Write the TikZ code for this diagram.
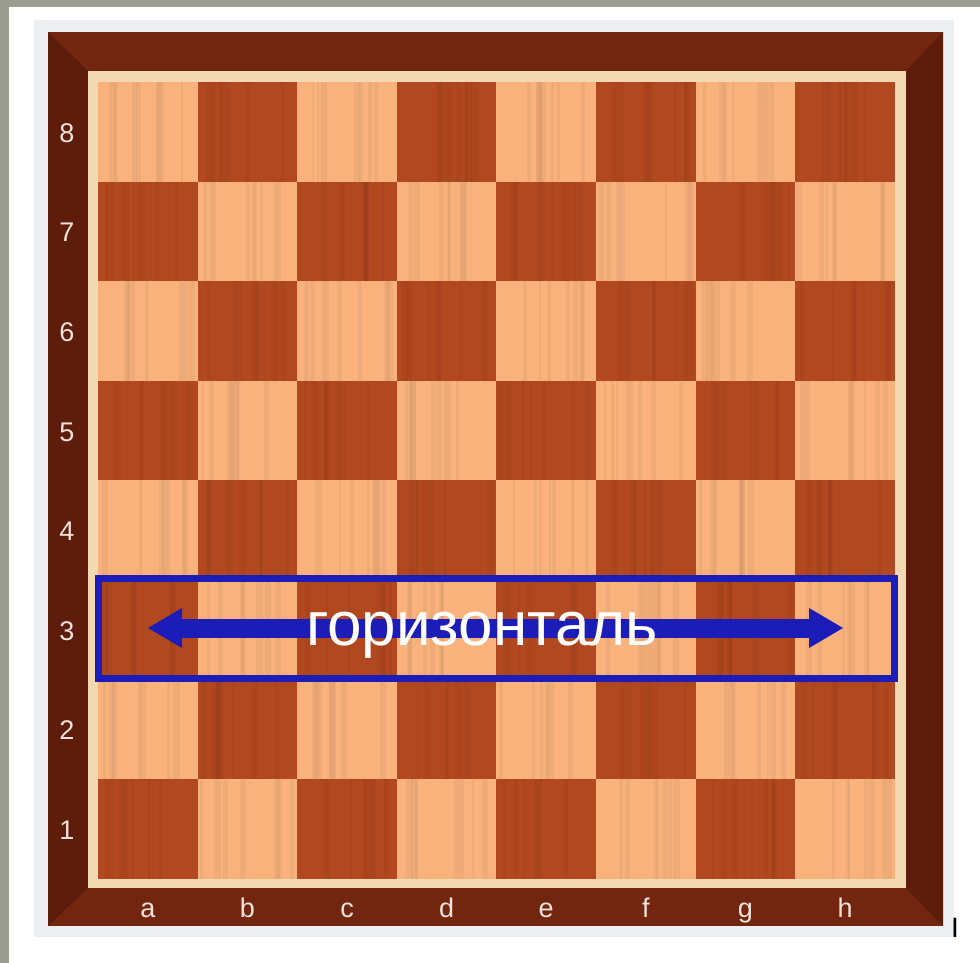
\documentclass[tikz,border=0pt]{standalone}
\usepackage{fontspec}
\setmainfont{Liberation Sans}
\usetikzlibrary{arrows.meta}
\definecolor{bggray}{HTML}{9A9D90}
\definecolor{panel}{HTML}{ECEEF2}
\definecolor{frameA}{HTML}{72260F}
\definecolor{frameB}{HTML}{5E1C0A}
\definecolor{rim}{HTML}{F3D9B2}
\definecolor{lightsq}{HTML}{F9B27C}
\definecolor{darksq}{HTML}{B24820}
\definecolor{hblue}{HTML}{1C1CB8}
\definecolor{labcol}{HTML}{F2E2DA}
\begin{document}
\begin{tikzpicture}[x=1pt,y=-1pt,
  coordlabel/.style={text=labcol,font=\fontsize{27}{27}\selectfont,inner sep=0pt,anchor=base},
  bluebox/.style={draw=hblue,line width=7pt,minimum width=796pt,minimum height=100pt,inner sep=0pt},
  bigarrow/.style={draw=hblue,line width=19pt,
    {Triangle[length=34pt,width=40pt,line width=0pt]}-{Triangle[length=34pt,width=40pt,line width=0pt]}},
  rowlabel/.style={text=white,font=\fontsize{62}{62}\selectfont,inner sep=0pt,anchor=base}]
\useasboundingbox (0,0) rectangle (980,963);
\fill[bggray] (0,0) rectangle (980,963);
\fill[white] (9,7) rectangle (980,963);
\fill[panel] (34,20) rectangle (954,937);
% frame with mitred sides
\fill[frameA] (48,32) rectangle (943,926);
\fill[frameB] (48,32) -- (88,71) -- (88,888) -- (48,926) -- cycle;
\fill[frameB] (943,32) -- (906,71) -- (906,888) -- (943,926) -- cycle;
\fill[rim] (88,71) rectangle (906,888);
% squares
\pgfmathsetseed{7}
\foreach \i in {0,...,7}{
  \foreach \j in {0,...,7}{
    \pgfmathtruncatemacro\c{mod(\i+\j,2)}
    \pgfmathsetmacro\xa{98+\i*99.6}
    \pgfmathsetmacro\ya{82+\j*99.6}
    \ifnum\c=0
      \fill[lightsq] (\xa,\ya) rectangle +(99.6,99.6);
    \else
      \fill[darksq] (\xa,\ya) rectangle +(99.6,99.6);
    \fi
    \foreach \k in {1,...,7}{
      \pgfmathsetmacro\xx{\xa+4+rnd*91.6}
      \pgfmathsetmacro\ww{2+rnd*5}
      \draw[black,opacity=0.04,line width=\ww pt] (\xx,\ya) -- ++(0,99.6);
    }
  }
}
% rank and file labels
\foreach \r [count=\n] in {8,7,6,5,4,3,2,1}{
  \node[coordlabel] (rank\r) at (67,{82+(\n-0.5)*99.6+10.5}) {\r};
}
\foreach \f [count=\n] in {a,b,c,d,e,f,g,h}{
  \node[coordlabel] (file\f) at ({98+(\n-0.5)*99.6},917) {\f};
}
% highlighted rank 3
\node[bluebox] (hbox) at (496.5,628.5) {};
\coordinate (al) at (148,628);
\coordinate (ar) at (843,628);
\draw[bigarrow] (al) -- (ar);
\node[rowlabel] (hlabel) at (482,645) {горизонталь};
\node[anchor=base,inner sep=0pt,font=\fontsize{28}{28}\selectfont] (cursor) at (955,937) {I};
\end{tikzpicture}
\end{document}
